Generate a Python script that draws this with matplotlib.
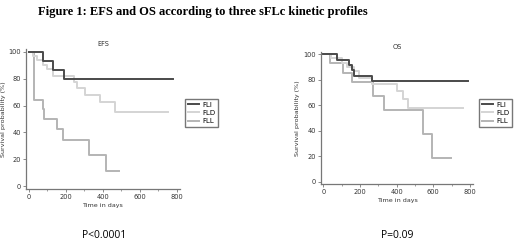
import matplotlib.pyplot as plt

# EFS curves (time in days, survival %)
efs_fli_t = [0, 77, 131, 191, 778]
efs_fli_s = [100, 93.3, 86.7, 80, 80]
efs_fld_t = [0, 20, 45, 75, 95, 130, 243, 258, 303, 384, 465, 753]
efs_fld_s = [100, 96.8, 93.5, 90.3, 87.1, 82, 77.5, 73, 68, 62.5, 55, 55]
efs_fll_t = [0, 27, 74, 81, 153, 185, 324, 414, 486]
efs_fll_s = [100, 64.3, 57.1, 50, 42.9, 34.3, 22.9, 11.4, 11.4]

# OS curves
os_fli_t = [0, 76, 140, 155, 170, 268, 790]
os_fli_s = [100, 95.8, 91.7, 87.5, 83.3, 79.2, 79.2]
os_fld_t = [0, 40, 100, 130, 165, 195, 265, 400, 433, 462, 760]
os_fld_s = [100, 96.7, 93.3, 90, 86.7, 81, 76.5, 71, 65, 58, 58]
os_fll_t = [0, 36, 109, 155, 273, 333, 542, 591, 695]
os_fll_s = [100, 92.9, 85.7, 78.6, 67.3, 56.1, 37.4, 18.7, 18.7]

labels = ['FLI', 'FLD', 'FLL']
colors = ['#4a4a4a', '#d4d4d4', '#b4b4b4']

fig = plt.figure(figsize=(5.2, 2.41), dpi=100)
fig.text(0.073, 0.975, 'Figure 1: EFS and OS according to three sFLc kinetic profiles',
         family='Liberation Serif', weight='bold', fontsize=9.0, va='top', ha='left')

axes = [fig.add_axes([0.05, 0.2158, 0.296, 0.581]),
        fig.add_axes([0.6167, 0.2357, 0.2935, 0.5496])]
curves = [[(efs_fli_t, efs_fli_s), (efs_fld_t, efs_fld_s), (efs_fll_t, efs_fll_s)],
          [(os_fli_t, os_fli_s), (os_fld_t, os_fld_s), (os_fll_t, os_fll_s)]]
titles = ['EFS', 'OS']
xlims = [(-16, 816), (-14, 818)]
pvals = ['P<0.0001', 'P=0.09']
pxs = [104 / 520, 397 / 520]
legpos = [(185 / 520, 1 - 99 / 241), (479 / 520, 1 - 99 / 241)]

for ax, crv, title, xl, pv, px, lp in zip(axes, curves, titles, xlims, pvals, pxs, legpos):
    lines = []
    for (t, s), c in zip(crv[::-1], colors[::-1]):
        ln, = ax.step(t, s, where='post', color=c, lw=1.4)
        lines.insert(0, ln)
    ax.set_xlim(*xl)
    ax.set_ylim(-2, 102)
    ax.set_xticks([0, 200, 400, 600, 800])
    ax.set_xticks(range(0, 801, 100), minor=True)
    ax.set_yticks([0, 20, 40, 60, 80, 100])
    for sp in ['top', 'right']:
        ax.spines[sp].set_visible(False)
    for sp in ['left', 'bottom']:
        ax.spines[sp].set_color('#777777')
        ax.spines[sp].set_linewidth(0.9)
    ax.tick_params(labelsize=4.8, length=2, width=0.6, color='#777777', pad=1.5, labelcolor='#333333')
    ax.tick_params(which='minor', length=1.5, width=0.5, color='#777777')
    ax.set_title(title, fontsize=4.8, color='#333333', pad=2)
    ax.set_ylabel('Survival probability (%)', fontsize=4.6, color='#333333', labelpad=2)
    ax.set_xlabel('Time in days', fontsize=4.6, color='#333333', labelpad=2)
    fig.legend(lines, labels, loc='upper left', bbox_to_anchor=lp, fontsize=5,
               frameon=True, fancybox=False, edgecolor='#555555', handlelength=1.6,
               handletextpad=0.5, borderpad=0.4, labelspacing=0.3, borderaxespad=0)
    fig.text(px, 1 - 235 / 241, pv, family='Open Sans', fontsize=7.5, ha='center', va='center')

fig.savefig('out.png', dpi=100)
